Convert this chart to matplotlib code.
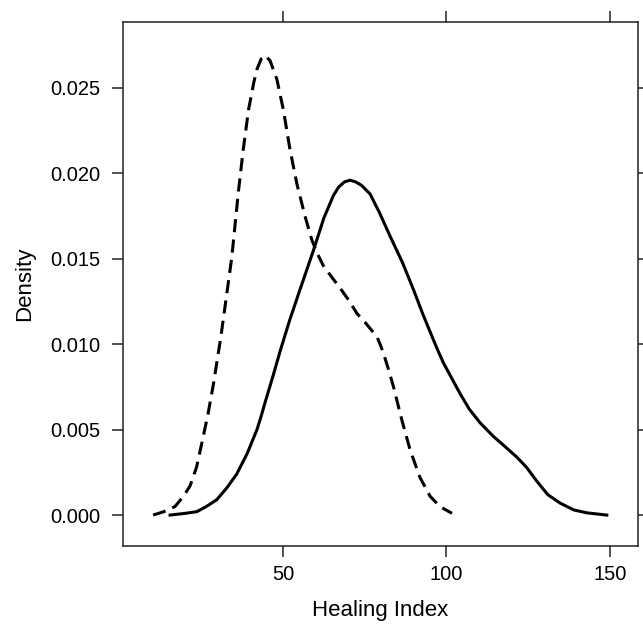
import matplotlib
matplotlib.use("Agg")
import matplotlib.pyplot as plt

plt.rcParams['font.family'] = ['Liberation Sans', 'DejaVu Sans']

# dashed density curve
dash_x = [10.2, 13.5, 16.9, 19.5, 21.5, 23.5, 25.1, 27.0, 28.7, 31.0, 34.3, 36.3,
          37.8, 39.4, 41.0, 42.0, 43.3, 44.5, 46.0, 48.1, 50.1, 52.1, 54.2, 56.7,
          58.8, 60.5, 62.3, 65.0, 67.4, 70.0, 72.6, 75.0, 77.6, 78.8, 79.9, 81.0,
          82.3, 83.8, 86.3, 88.9, 91.9, 95.0, 98.0, 101.7]
dash_y = [0.0, 0.0002, 0.0005, 0.0011, 0.0017, 0.0028, 0.0042, 0.0059, 0.0077,
          0.0105, 0.0151, 0.0189, 0.0214, 0.0237, 0.0253, 0.0261, 0.0267, 0.0269,
          0.0266, 0.0255, 0.0237, 0.0214, 0.0194, 0.0175, 0.0161, 0.0153, 0.0146,
          0.0139, 0.0133, 0.0126, 0.0118, 0.0113, 0.0107, 0.0104, 0.0099, 0.0093,
          0.0085, 0.0075, 0.0056, 0.0038, 0.0022, 0.0011, 0.0005, 0.0001]

# solid density curve
solid_x = [15.4, 20.0, 23.6, 26.5, 29.7, 32.8, 35.8, 39.0, 40.5, 42.0, 43.3, 44.5,
           47.0, 49.1, 52.0, 55.0, 59.3, 62.5, 65.4, 67.0, 68.8, 70.5, 72.2, 74.0,
           76.6, 79.5, 82.8, 86.5, 89.9, 92.9, 97.0, 99.1, 104.2, 107.0, 110.3,
           114.4, 117.4, 121.5, 124.5, 127.6, 131.0, 134.8, 139.0, 143.0, 149.1]
solid_y = [0.0, 0.0001, 0.0002, 0.0005, 0.0009, 0.0016, 0.0024, 0.0036, 0.0043,
           0.0050, 0.0058, 0.0066, 0.0082, 0.0096, 0.0114, 0.0131, 0.0155, 0.0174,
           0.0187, 0.0192, 0.0195, 0.0196, 0.0195, 0.0193, 0.0188, 0.0177, 0.0163,
           0.0148, 0.0132, 0.0117, 0.0098, 0.0089, 0.0071, 0.0062, 0.0054, 0.0046,
           0.0041, 0.0034, 0.0028, 0.0020, 0.0012, 0.0007, 0.0003, 0.00013, 0.0]

x_ticks = [50, 100, 150]
y_ticks = [0.000, 0.005, 0.010, 0.015, 0.020, 0.025]
y_labels = ['0.000', '0.005', '0.010', '0.015', '0.020', '0.025']

fig = plt.figure(figsize=(6.43, 6.25), dpi=100)
ax = fig.add_axes([0.191, 0.1264, 0.801, 0.839])

ax.plot(dash_x, dash_y, color='black', lw=2.2, linestyle=(0, (4.3, 2.4)),
        solid_joinstyle='round')
ax.plot(solid_x, solid_y, color='black', lw=2.2, solid_joinstyle='round')

ax.set_xlim(0.93, 158.6)
ax.set_ylim(-0.00181, 0.02888)

ax.set_xticks(x_ticks)
ax.set_yticks(y_ticks)
ax.set_yticklabels(y_labels)

for sp in ax.spines.values():
    sp.set_linewidth(1.1)
    sp.set_color('#222222')

ax.tick_params(direction='out', length=8, width=1.1, color='#222222',
               top=True, right=True, labelsize=14.5, pad=6)
ax.tick_params(axis='y', pad=8)

ax.set_xlabel('Healing Index', fontsize=16, labelpad=11)
ax.set_ylabel('Density', fontsize=16, labelpad=11)

fig.savefig('out.png', dpi=100)
